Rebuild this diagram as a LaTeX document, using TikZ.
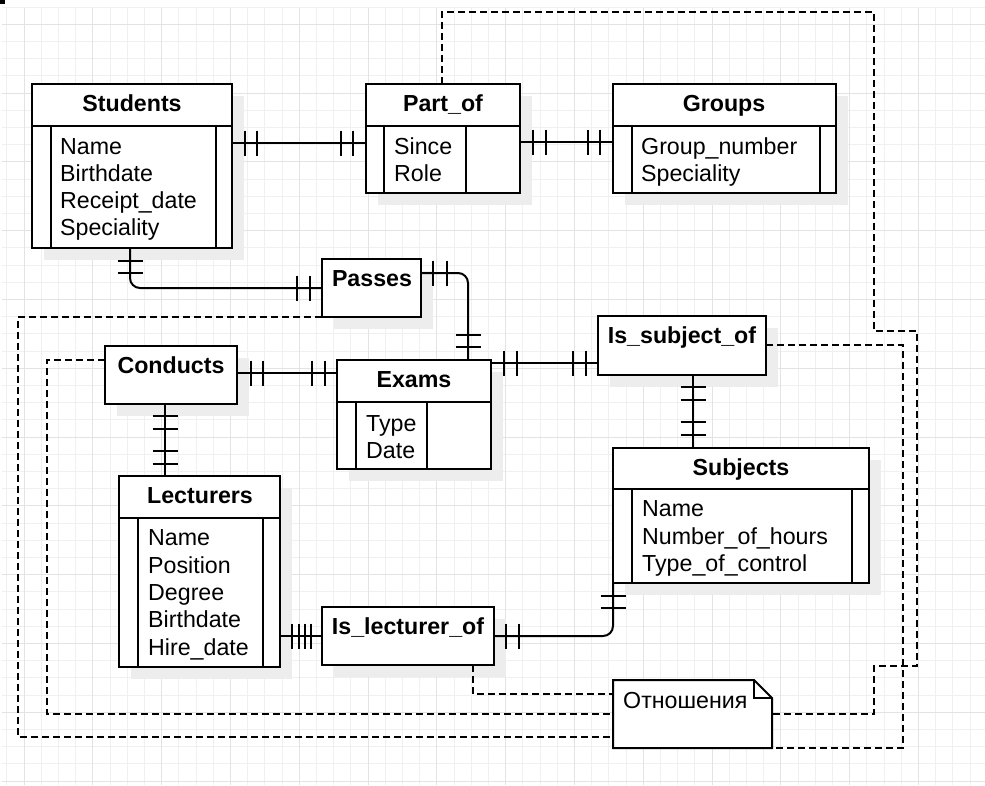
\documentclass[tikz,border=0pt]{standalone}
\usepackage{fontspec}
\setmainfont{Liberation Sans}
\pgfdeclarelayer{bg}
\pgfsetlayers{bg,main}
\newcommand\tkv[1]{\draw[sol] #1 ++(0pt,12.5pt) -- ++(0pt,-25pt);}
\newcommand\tkh[1]{\draw[sol] #1 ++(-12.5pt,0pt) -- ++(25pt,0pt);}
\begin{document}
\begin{tikzpicture}[x=1pt,y=-1pt,
 sol/.style={line width=2pt},
 dsh/.style={line width=2pt, dash pattern=on 7pt off 4pt},
 box/.style={draw, line width=2pt, fill=white, anchor=north west, inner sep=0pt, outer sep=0pt},
 ttl/.style={font=\fontsize{23.2}{27}\selectfont\bfseries, inner sep=0pt, text height=16.5pt, text depth=0pt, anchor=center},
 att/.style={font=\fontsize{23.2}{27}\selectfont, inner sep=0pt, text height=16.5pt, text depth=0pt, anchor=west},
 gmin/.style={line width=0.8pt, draw=black!6},
 gmaj/.style={line width=0.8pt, draw=black!11},
 shd/.style={fill=black!7}]
\useasboundingbox (0,0) rectangle (985,785);

% ---- entity boxes
\node[box, minimum width=200pt, minimum height=164pt] (stu) at (32,84) {};
\node[box, minimum width=154pt, minimum height=109pt] (part) at (366,84) {};
\node[box, minimum width=223pt, minimum height=109pt] (grp) at (613,84) {};
\node[box, minimum width=99pt, minimum height=58pt] (pass) at (322,259) {};
\node[box, minimum width=132pt, minimum height=58pt] (cond) at (105,346) {};
\node[box, minimum width=154pt, minimum height=109pt] (exam) at (337,360) {};
\node[box, minimum width=168pt, minimum height=59pt] (iso) at (598,316) {};
\node[box, minimum width=256pt, minimum height=135pt] (subj) at (613,448) {};
\node[box, minimum width=161pt, minimum height=191pt] (lect) at (119,476) {};
\node[box, minimum width=172pt, minimum height=58pt] (ilo) at (322,607) {};
\node[anchor=north west, inner sep=0pt, outer sep=0pt, minimum width=159pt, minimum height=68pt] (note) at (613,680) {};

% ---- background: grid and shadows
\begin{pgfonlayer}{bg}
\fill[white] (0,0) rectangle (985,785);
\foreach \i in {0,...,56} \draw[gmin] ({6.7+17.2*\i},8) -- ({6.7+17.2*\i},785);
\foreach \j in {0,...,45} \draw[gmin] (2,{7+17.2*\j}) -- (985,{7+17.2*\j});
\foreach \i in {1,5,...,53} \draw[gmaj] ({6.7+17.2*\i},8) -- ({6.7+17.2*\i},785);
\foreach \j in {1,5,...,45} \draw[gmaj] (2,{7+17.2*\j}) -- (985,{7+17.2*\j});
\fill[black] (0,0) rectangle (5,4);
\foreach \n in {stu,part,grp,pass,cond,exam,iso,subj,lect,ilo}
  \fill[shd] ([xshift=12pt,yshift=-12pt]\n.north west) rectangle ([xshift=12pt,yshift=-12pt]\n.south east);
\end{pgfonlayer}

% ---- table inner lines
\draw[sol] ([yshift=-42pt]stu.north west) -- ([yshift=-42pt]stu.north east);
\draw[sol] ([xshift=19pt,yshift=-42pt]stu.north west) -- ([xshift=19pt]stu.south west);
\draw[sol] ([xshift=-16pt,yshift=-42pt]stu.north east) -- ([xshift=-16pt]stu.south east);
\draw[sol] ([yshift=-42pt]part.north west) -- ([yshift=-42pt]part.north east);
\draw[sol] ([xshift=18pt,yshift=-42pt]part.north west) -- ([xshift=18pt]part.south west);
\draw[sol] ([xshift=100pt,yshift=-42pt]part.north west) -- ([xshift=100pt]part.south west);
\draw[sol] ([yshift=-42pt]grp.north west) -- ([yshift=-42pt]grp.north east);
\draw[sol] ([xshift=19pt,yshift=-42pt]grp.north west) -- ([xshift=19pt]grp.south west);
\draw[sol] ([xshift=-16pt,yshift=-42pt]grp.north east) -- ([xshift=-16pt]grp.south east);
\draw[sol] ([yshift=-42pt]exam.north west) -- ([yshift=-42pt]exam.north east);
\draw[sol] ([xshift=19pt,yshift=-42pt]exam.north west) -- ([xshift=19pt]exam.south west);
\draw[sol] ([xshift=90pt,yshift=-42pt]exam.north west) -- ([xshift=90pt]exam.south west);
\draw[sol] ([yshift=-41pt]subj.north west) -- ([yshift=-41pt]subj.north east);
\draw[sol] ([xshift=19pt,yshift=-41pt]subj.north west) -- ([xshift=19pt]subj.south west);
\draw[sol] ([xshift=-17pt,yshift=-41pt]subj.north east) -- ([xshift=-17pt]subj.south east);
\draw[sol] ([yshift=-42pt]lect.north west) -- ([yshift=-42pt]lect.north east);
\draw[sol] ([xshift=19pt,yshift=-42pt]lect.north west) -- ([xshift=19pt]lect.south west);
\draw[sol] ([xshift=-17pt,yshift=-42pt]lect.north east) -- ([xshift=-17pt]lect.south east);

% ---- note shape
\draw[sol, fill=white] (note.north west) -- ([xshift=-18pt]note.north east) -- ([yshift=-18pt]note.north east) -- (note.south east) -- (note.south west) -- cycle;
\draw[sol] ([xshift=-18pt]note.north east) -- ([xshift=-18pt,yshift=-18pt]note.north east) -- ([yshift=-18pt]note.north east);

% ---- titles
\node[ttl] (stuT) at (132,103) {Students};
\node[ttl] (partT) at (443,103) {Part\_of};
\node[ttl] (grpT) at (724,103) {Groups};
\node[ttl] (passT) at (372,278) {Passes};
\node[ttl] (condT) at (171,365) {Conducts};
\node[ttl] (examT) at (414,379) {Exams};
\node[ttl] (isoT) at (682,335) {Is\_subject\_of};
\node[ttl] (subjT) at (741,467) {Subjects};
\node[ttl] (lectT) at (200,495) {Lecturers};
\node[ttl] (iloT) at (408,626) {Is\_lecturer\_of};

% ---- attributes
\node[att] (stu1) at (60,146) {Name};
\node[att] (stu2) at (60,173) {Birthdate};
\node[att] (stu3) at (60,200) {Receipt\_date};
\node[att] (stu4) at (60,227) {Speciality};
\node[att] (part1) at (394,146) {Since};
\node[att] (part2) at (394,173) {Role};
\node[att] (grp1) at (641,146) {Group\_number};
\node[att] (grp2) at (641,173) {Speciality};
\node[att] (exam1) at (366,423) {Type};
\node[att] (exam2) at (366,450) {Date};
\node[att] (subj1) at (642,508) {Name};
\node[att] (subj2) at (642,536) {Number\_of\_hours};
\node[att] (subj3) at (642,563) {Type\_of\_control};
\node[att] (lect1) at (148,537) {Name};
\node[att] (lect2) at (148,565) {Position};
\node[att] (lect3) at (148,592) {Degree};
\node[att] (lect4) at (148,619) {Birthdate};
\node[att] (lect5) at (148,647) {Hire\_date};
\node[att] (noteT) at (623,700) {Отношения};

% ---- connectors
\coordinate (c1a) at ([yshift=-59pt]stu.north east);
\coordinate (c1b) at ([yshift=-59pt]part.north west);
\draw[sol] (c1a) -- (c1b);
\tkv{([xshift=13pt]c1a)} \tkv{([xshift=25pt]c1a)}
\tkv{([xshift=-25pt]c1b)} \tkv{([xshift=-13pt]c1b)}

\coordinate (c2a) at ([yshift=-58pt]part.north east);
\coordinate (c2b) at ([yshift=-58pt]grp.north west);
\draw[sol] (c2a) -- (c2b);
\tkv{([xshift=13pt]c2a)} \tkv{([xshift=26pt]c2a)}
\tkv{([xshift=-25pt]c2b)} \tkv{([xshift=-13pt]c2b)}

\coordinate (c3a) at ([xshift=-2pt]stu.south);
\coordinate (c3b) at ([yshift=-29pt]pass.north west);
\draw[sol, rounded corners=10pt] (c3a) |- (c3b);
\tkh{([yshift=-13pt]c3a)} \tkh{([yshift=-25pt]c3a)}
\tkv{([xshift=-25pt]c3b)} \tkv{([xshift=-12pt]c3b)}

\coordinate (c4a) at ([yshift=-14pt]pass.north east);
\coordinate (c4b) at ([xshift=131pt]exam.north west);
\draw[sol, rounded corners=10pt] (c4a) -| (c4b);
\tkv{([xshift=12pt]c4a)} \tkv{([xshift=26pt]c4a)}
\tkh{([yshift=25pt]c4b)} \tkh{([yshift=13pt]c4b)}

\coordinate (c5a) at ([yshift=-27pt]cond.north east);
\coordinate (c5b) at ([yshift=-13pt]exam.north west);
\draw[sol] (c5a) -- (c5b);
\tkv{([xshift=14pt]c5a)} \tkv{([xshift=26pt]c5a)}
\tkv{([xshift=-25pt]c5b)} \tkv{([xshift=-12pt]c5b)}

\coordinate (c6a) at ([xshift=60pt]cond.south west);
\coordinate (c6b) at ([xshift=46pt]lect.north west);
\draw[sol] (c6a) -- (c6b);
\tkh{([yshift=-12pt]c6a)} \tkh{([yshift=-25pt]c6a)}
\tkh{([yshift=25pt]c6b)} \tkh{([yshift=12pt]c6b)}

\coordinate (c7a) at ([yshift=-3pt]exam.north east);
\coordinate (c7b) at ([yshift=-47pt]iso.north west);
\draw[sol] (c7a) -- (c7b);
\tkv{([xshift=13pt]c7a)} \tkv{([xshift=26pt]c7a)}
\tkv{([xshift=-25pt]c7b)} \tkv{([xshift=-12pt]c7b)}

\coordinate (c8a) at ([xshift=95pt]iso.south west);
\coordinate (c8b) at ([xshift=80pt]subj.north west);
\draw[sol] (c8a) -- (c8b);
\tkh{([yshift=-12pt]c8a)} \tkh{([yshift=-25pt]c8a)}
\tkh{([yshift=26pt]c8b)} \tkh{([yshift=13pt]c8b)}

\coordinate (c9a) at ([yshift=-160pt]lect.north east);
\coordinate (c9b) at ([yshift=-29pt]ilo.north west);
\draw[sol] (c9a) -- (c9b);
\tkv{([xshift=12pt]c9a)} \tkv{([xshift=19pt]c9a)}
\tkv{([xshift=25pt]c9a)} \tkv{([xshift=31pt]c9a)}

\coordinate (c10a) at ([yshift=-29pt]ilo.north east);
\coordinate (c10b) at (subj.south west);
\draw[sol, rounded corners=10pt] (c10a) -| (c10b);
\tkv{([xshift=12pt]c10a)} \tkv{([xshift=25pt]c10a)}
\tkh{([yshift=-13pt]c10b)} \tkh{([yshift=-25pt]c10b)}

% ---- dashed links to the note
\draw[dsh] ([xshift=76pt]part.north west) |- (874,12) |- (917,331) |- (874,666) |- ([yshift=-34pt]note.north east);
\draw[dsh] ([yshift=-29pt]iso.north east) -| ([xshift=131pt]note.south east) -- (note.south east);
\draw[dsh] ([xshift=151pt]ilo.south west) |- ([yshift=-14pt]note.north west);
\draw[dsh] ([yshift=-14pt]cond.north west) -| (47,714) -- ([yshift=-34pt]note.north west);
\draw[dsh] (pass.south west) -| (18,737) -- ([yshift=-57pt]note.north west);
\end{tikzpicture}
\end{document}
